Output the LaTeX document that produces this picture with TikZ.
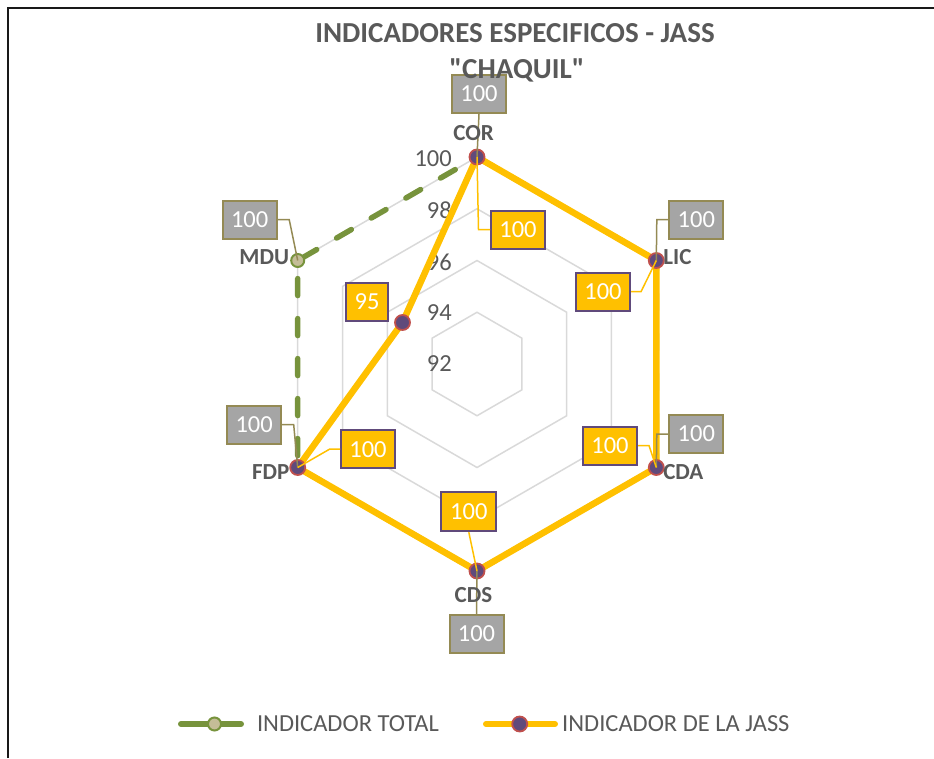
\documentclass[tikz,border=0pt]{standalone}
\usepackage{fontspec}
\setmainfont{Carlito}[Ligatures=TeXOff]
\definecolor{txtgray}{HTML}{595959}
\definecolor{ringgray}{HTML}{D9D9D9}
\definecolor{totgreen}{HTML}{77933C}
\definecolor{tanfill}{HTML}{C4BD97}
\definecolor{gold}{HTML}{FFC000}
\definecolor{purp}{HTML}{604A7B}
\definecolor{markred}{HTML}{C0504D}
\definecolor{boxgray}{HTML}{A5A5A5}
\definecolor{olivetan}{HTML}{948A54}
\newcommand{\ttlfont}{\fontsize{29}{33}\selectfont\bfseries}
\newcommand{\lblfont}{\fontsize{24.5}{27}\selectfont}
\newcommand{\axfont}{\fontsize{23}{25}\selectfont\bfseries}
\begin{document}
\begin{tikzpicture}[x=1pt,y=-1pt,
  ring/.style={draw=ringgray,line width=1.5pt},
  totline/.style={draw=totgreen,line width=5.5pt,dash pattern=on 17pt off 23pt,line cap=round},
  jassline/.style={draw=gold,line width=6.5pt,line join=round},
  totmark/.style={circle,fill=tanfill,draw=totgreen,line width=2pt,minimum size=13pt,inner sep=0},
  jassmark/.style={circle,fill=purp,draw=markred,line width=1.8pt,minimum size=15pt,inner sep=0},
  gbox/.style={fill=boxgray,draw=olivetan,line width=2pt,text=white,font=\lblfont,minimum width=54pt,minimum height=38pt,inner sep=0},
  ybox/.style={fill=gold,draw=purp,line width=2pt,text=white,font=\lblfont,minimum width=54pt,minimum height=38pt,inner sep=0},
  gleader/.style={draw=olivetan,line width=1.5pt},
  yleader/.style={draw=gold,line width=1.5pt},
  axlab/.style={font=\axfont,text=txtgray,inner sep=0},
  ringlab/.style={font=\lblfont,text=txtgray,anchor=east,inner sep=0},
  legtext/.style={font=\lblfont,text=txtgray,anchor=west,inner sep=0},
  frame/.style={draw=black!90,line width=2pt}]
\useasboundingbox (0,0) rectangle (934,758);
% frame
\coordinate (f1) at (8,758);
\coordinate (f2) at (8,7.5);
\coordinate (f3) at (934,7.5);
\draw[frame] (f1) -- (f2) -- (f3);
% rings
\begin{scope}[shift={(477,364)}]
\foreach \r in {51.75,103.5,155.25,207}
  \draw[ring] (-90:\r) -- (-30:\r) -- (30:\r) -- (90:\r) -- (150:\r) -- (210:\r) -- cycle;
\end{scope}
% ring labels
\node[ringlab] (r100) at (452,159) {100};
\node[ringlab] (r98) at (452,210) {98};
\node[ringlab] (r96) at (452,262) {96};
\node[ringlab] (r94) at (452,313) {94};
\node[ringlab] (r92) at (452,364) {92};
% data points
\coordinate (tCOR) at (477,157);
\coordinate (tLIC) at (656.3,260.5);
\coordinate (tCDA) at (656.3,467.5);
\coordinate (tCDS) at (477,571);
\coordinate (tFDP) at (297.7,467.5);
\coordinate (tMDU) at (297.7,260.5);
\coordinate (jMDU) at (402.5,322.5);
% series lines
\draw[totline] (tCOR) -- (tLIC) -- (tCDA) -- (tCDS) -- (tFDP) -- (tMDU) -- cycle;
\draw[jassline] (tCOR) -- (tLIC) -- (tCDA) -- (tCDS) -- (tFDP) -- (jMDU) -- cycle;
% markers
\foreach \p in {COR,LIC,CDA,CDS,FDP,MDU}
  \node[totmark] (mt\p) at (t\p) {};
\node[jassmark] (mjCOR) at (tCOR) {};
\node[jassmark] (mjLIC) at (tLIC) {};
\node[jassmark] (mjCDA) at (tCDA) {};
\node[jassmark] (mjCDS) at (tCDS) {};
\node[jassmark] (mjFDP) at (tFDP) {};
\node[jassmark] (mjMDU) at (jMDU) {};
% gray data labels (INDICADOR TOTAL)
\node[gbox] (gCOR) at (479,94) {100};
\node[gbox] (gLIC) at (696.3,219.5) {100};
\node[gbox] (gCDA) at (696.3,434) {100};
\node[gbox] (gCDS) at (476.5,634) {100};
\node[gbox] (gFDP) at (254.2,424.7) {100};
\node[gbox] (gMDU) at (249.7,219.5) {100};
\draw[gleader] (gCOR.south) -- (mtCOR.center);
\draw[gleader] (gLIC.west) -- ++(-11.5,0) -- (mtLIC.center);
\draw[gleader] (gCDA.west) -- ++(-11.5,0) -- (mtCDA.center);
\draw[gleader] (gCDS.north) -- (mtCDS.center);
\draw[gleader] (gFDP.east) -- ++(11.5,0) -- (mtFDP.center);
\draw[gleader] (gMDU.east) -- ++(11.5,0) -- (mtMDU.center);
% yellow data labels (INDICADOR DE LA JASS)
\node[ybox] (yCOR) at (518,229.5) {100};
\node[ybox] (yLIC) at (603,291.7) {100};
\node[ybox] (yCDA) at (610,445.5) {100};
\node[ybox,minimum width=55pt,minimum height=39pt] (yCDS) at (468.8,511.7) {100};
\node[ybox] (yFDP) at (368,449.2) {100};
\node[ybox,minimum width=42pt] (yMDU) at (367,301.7) {95};
\coordinate (kCOR) at (478.5,229.5);
\draw[yleader] (mjCOR.center) -- (kCOR) -- (yCOR.west);
\draw[yleader] (yLIC.east) -- ++(10,0) -- (mjLIC.center);
\draw[yleader] (yCDA.east) -- ++(11,0) -- (mjCDA.center);
\draw[yleader] (yCDS.south) -- (mjCDS.center);
\draw[yleader] (yFDP.west) -- ++(-10.5,0) -- (mjFDP.center);
% axis labels
\node[axlab] (lCOR) at (473.5,133) {COR};
\node[axlab] (lLIC) at (677.5,257) {LIC};
\node[axlab] (lCDA) at (683.3,471.7) {CDA};
\node[axlab] (lCDS) at (473.5,595) {CDS};
\node[axlab] (lFDP) at (270.8,471.7) {FDP};
\node[axlab] (lMDU) at (264.3,256.7) {MDU};
% title
\node[font=\ttlfont,text=txtgray,inner sep=0] (title1) at (515,33) {INDICADORES ESPECIFICOS - JASS};
\node[font=\ttlfont,text=txtgray,inner sep=0] (title2) at (517,70) {"CHAQUIL"};
% legend
\coordinate (la1) at (181,724);
\coordinate (la2) at (241,724);
\draw[draw=totgreen,line width=6pt,line cap=round] (la1) -- (la2);
\node[totmark] (lmt) at (214.5,724) {};
\node[legtext] (ltxt1) at (256.8,724) {INDICADOR TOTAL};
\coordinate (lb1) at (486,724);
\coordinate (lb2) at (555,724);
\draw[draw=gold,line width=6pt,line cap=round] (lb1) -- (lb2);
\node[jassmark] (lmj) at (519.7,724) {};
\node[legtext] (ltxt2) at (562,724) {INDICADOR DE LA JASS};
\end{tikzpicture}
\end{document}
